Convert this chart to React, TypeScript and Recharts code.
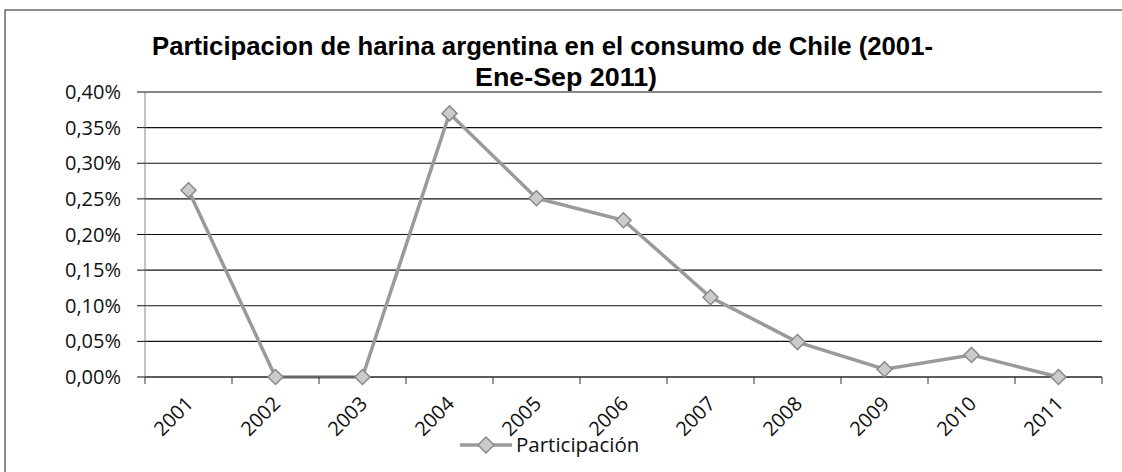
import React from "react";
import { LineChart, Line, XAxis, YAxis, CartesianGrid } from "recharts";

const years = ["2001", "2002", "2003", "2004", "2005", "2006", "2007", "2008", "2009", "2010", "2011"];
const participacion = [0.262, 0.0, 0.0, 0.37, 0.251, 0.22, 0.112, 0.049, 0.011, 0.031, 0.0];
const yTicks = [0, 0.05, 0.1, 0.15, 0.2, 0.25, 0.3, 0.35, 0.4];

const data = years.map((y, i) => ({ year: y, v: participacion[i] }));

const W = 1122;
const H = 472;
const M = { top: 92, right: 20, bottom: 0, left: 85 };
const Y_AXIS_W = 60;
const X_AXIS_H = 95;
const band = (W - M.left - Y_AXIS_W - M.right) / years.length;

const FONT = "'Open Sans', Calibri, sans-serif";
const TITLE_FONT = "'Liberation Sans', Arial, sans-serif";
const fmt = (v: number) => v.toFixed(2).replace(".", ",") + "%";

const Diamond = (props: any) => {
  const { cx, cy } = props;
  if (cx == null || cy == null) return null;
  const r = 7.5;
  return (
    <polygon
      points={`${cx},${cy - r} ${cx + r},${cy} ${cx},${cy + r} ${cx - r},${cy}`}
      fill="#cbcbcb"
      stroke="#8a8a8a"
      strokeWidth={1.5}
    />
  );
};

const YearTick = (props: any) => {
  const { x, y, payload, index } = props;
  const y0 = y - 8;
  return (
    <g>
      <line x1={x - band / 2} y1={y0} x2={x - band / 2} y2={y0 + 7} stroke="#333" />
      {index === years.length - 1 && (
        <line x1={x + band / 2} y1={y0} x2={x + band / 2} y2={y0 + 7} stroke="#333" />
      )}
      <g transform={`translate(${x + 6},${y + 20})`}>
        <text transform="rotate(-45)" textAnchor="end" fontSize={20} fill="#111" fontFamily={FONT}>
          {payload.value}
        </text>
      </g>
    </g>
  );
};

export default function App() {
  return (
    <div style={{ position: "absolute", left: 0, top: 0, width: W, height: H, background: "#fff" }}>
      <svg width={W} height={H} style={{ position: "absolute", left: 0, top: 0 }}>
        <rect x={5} y={10} width={1130} height={480} fill="none" stroke="#444" strokeWidth={1.2} />
        <text x={152} y={55} fontSize={26.5} fontWeight="bold" fontFamily={TITLE_FONT} fill="#000"
          textLength={781} lengthAdjust="spacingAndGlyphs">
          Participacion de harina argentina en el consumo de Chile (2001-
        </text>
        <text x={475} y={86} fontSize={26.5} fontWeight="bold" fontFamily={TITLE_FONT} fill="#000"
          textLength={182} lengthAdjust="spacingAndGlyphs">
          Ene-Sep 2011)
        </text>
        <line x1={460} y1={445} x2={512} y2={445} stroke="#9a9a9a" strokeWidth={3.5} />
        <polygon points="486,437 494,445 486,453 478,445" fill="#cbcbcb" stroke="#8a8a8a" strokeWidth={1.5} />
        <text x={516} y={452} fontSize={20.5} fill="#111" fontFamily={FONT}>
          Participación
        </text>
      </svg>
      <div style={{ position: "absolute", left: 0, top: 0 }}>
        <LineChart width={W} height={H} data={data} margin={M}>
          <CartesianGrid vertical={false} stroke="#111" strokeWidth={1.2} />
          <XAxis
            dataKey="year"
            type="category"
            interval={0}
            padding={{ left: band / 2, right: band / 2 }}
            tick={<YearTick />}
            tickLine={false}
            height={X_AXIS_H}
            axisLine={{ stroke: "#333" }}
          />
          <YAxis
            type="number"
            domain={[0, 0.4]}
            ticks={yTicks}
            tickFormatter={fmt}
            width={Y_AXIS_W}
            tickSize={8}
            tickMargin={16}
            axisLine={{ stroke: "#888" }}
            tick={{ fontSize: 20, fill: "#111", fontFamily: FONT }}
            tickLine={{ stroke: "#111" }}
          />
          <Line
            dataKey="v"
            stroke="#9a9a9a"
            strokeWidth={3.5}
            dot={<Diamond />}
            isAnimationActive={false}
          />
        </LineChart>
      </div>
    </div>
  );
}
